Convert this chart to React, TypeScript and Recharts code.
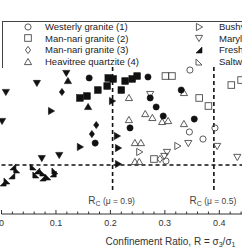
import { ScatterChart, Scatter, XAxis, YAxis, ReferenceLine } from "recharts";

type Pt = { x: number; y: number };
type Kind = "circle" | "square" | "diamond" | "up" | "down" | "right" | "fresh" | "salt";

// values (x = confinement ratio, y = arbitrary 0..1.5 scale, axis labels cropped)
const westerlyFilled: Pt[] = [
  { x: 0.161, y: 1.388 }, { x: 0.269, y: 1.398 }, { x: 0.273, y: 1.184 }, { x: 0.284, y: 1.092 },
  { x: 0.297, y: 1.0 }, { x: 0.33, y: 1.265 }, { x: 0.354, y: 0.969 }, { x: 0.236, y: 0.878 },
  { x: 0.172, y: 0.724 },
];
const manNari2Filled: Pt[] = [
  { x: 0.144, y: 1.184 }, { x: 0.157, y: 1.204 }, { x: 0.177, y: 1.265 }, { x: 0.194, y: 1.306 },
  { x: 0.196, y: 1.388 }, { x: 0.205, y: 1.378 }, { x: 0.22, y: 1.265 }, { x: 0.227, y: 1.357 },
  { x: 0.24, y: 1.378 }, { x: 0.249, y: 1.408 },
];
const manNari3Filled: Pt[] = [{ x: 0.111, y: 1.245 }, { x: 0.166, y: 0.816 }, { x: 0.174, y: 0.908 }];
const heavitreeFilled: Pt[] = [{ x: 0.122, y: 1.357 }, { x: 0.159, y: 1.092 }];
const bushveldFilled: Pt[] = [
  { x: 0.091, y: 1.051 }, { x: 0.144, y: 0.684 }, { x: 0.203, y: 1.153 }, { x: 0.212, y: 0.796 },
  { x: 0.214, y: 0.673 }, { x: 0.214, y: 0.51 },
];
const marylandFilled: Pt[] = [
  { x: 0.119, y: 1.439 }, { x: 0.065, y: 1.337 }, { x: 0.008, y: 1.245 }, { x: 0.001, y: 0.949 },
  { x: 0.074, y: 0.571 }, { x: 0.106, y: 0.602 },
];
const freshwaterFilled: Pt[] = [
  { x: 0.021, y: 0.48 }, { x: 0.019, y: 0.388 }, { x: 0.003, y: 0.316 }, { x: 0.065, y: 0.439 },
  { x: 0.076, y: 0.367 }, { x: 0.095, y: 0.408 },
];
const saltwashFilled: Pt[] = [
  { x: 0.028, y: 0.449 }, { x: 0.01, y: 0.337 }, { x: 0.058, y: 0.48 }, { x: 0.063, y: 0.398 },
  { x: 0.076, y: 0.418 }, { x: 0.085, y: 0.378 }, { x: 0.098, y: 0.439 },
];

const westerlyOpen: Pt[] = [
  { x: 0.346, y: 1.469 }, { x: 0.345, y: 0.837 }, { x: 0.37, y: 0.765 }, { x: 0.392, y: 0.878 },
  { x: 0.302, y: 0.541 },
];
const manNari2Open: Pt[] = [
  { x: 0.301, y: 1.408 }, { x: 0.313, y: 1.408 }, { x: 0.363, y: 1.184 }, { x: 0.38, y: 1.102 },
  { x: 0.422, y: 1.316 }, { x: 0.44, y: 1.367 }, { x: 0.28, y: 0.561 },
];
const manNari3Open: Pt[] = [{ x: 0.291, y: 0.561 }];
const heavitreeOpen: Pt[] = [
  { x: 0.234, y: 1.184 }, { x: 0.264, y: 1.02 }, { x: 0.277, y: 0.98 }, { x: 0.234, y: 0.959 },
  { x: 0.295, y: 0.939 }, { x: 0.306, y: 0.949 }, { x: 0.335, y: 0.918 }, { x: 0.335, y: 1.235 },
  { x: 0.245, y: 0.724 }, { x: 0.256, y: 0.724 }, { x: 0.245, y: 0.531 }, { x: 0.253, y: 0.531 },
];
const bushveldOpen: Pt[] = [{ x: 0.253, y: 0.633 }, { x: 0.323, y: 0.694 }];
const marylandOpen: Pt[] = [
  { x: 0.273, y: 1.224 }, { x: 0.343, y: 0.724 }, { x: 0.396, y: 0.694 }, { x: 0.304, y: 0.633 },
  { x: 0.433, y: 0.582 }, { x: 0.299, y: 0.592 },
];

const xTicks = [
  0, 0.02, 0.04, 0.06, 0.08, 0.1, 0.12, 0.14, 0.16, 0.18, 0.2, 0.22, 0.24, 0.26, 0.28, 0.3,
  0.32, 0.34, 0.36, 0.38, 0.4, 0.42, 0.44, 0.46,
];

const legendLeft = ["Westerly granite (1)", "Man-nari granite (2)", "Man-nari granite (3)", "Heavitree quartzite (4)"];
const legendRight = ["Bushveld norite (5)", "Maryland diabase (6)", "Freshwater sandstone (7)", "Saltwash sandstone (8)"];
const legendLeftKinds: Kind[] = ["circle", "square", "diamond", "up"];
const legendRightKinds: Kind[] = ["right", "down", "fresh", "salt"];

const RC_09 = 0.204;
const RC_05 = 0.39;
const RC_LINE_END = 0.214;
const H_LINE = 0.5;

const PLOT_TOP = 67;
const PLOT_BOTTOM = 214;
const FONT = '"Liberation Sans", Arial, sans-serif';

const series: { data: Pt[]; kind: Kind; filled: boolean }[] = [
  { data: westerlyOpen, kind: "circle", filled: false },
  { data: manNari2Open, kind: "square", filled: false },
  { data: manNari3Open, kind: "diamond", filled: false },
  { data: heavitreeOpen, kind: "up", filled: false },
  { data: bushveldOpen, kind: "right", filled: false },
  { data: marylandOpen, kind: "down", filled: false },
  { data: westerlyFilled, kind: "circle", filled: true },
  { data: manNari2Filled, kind: "square", filled: true },
  { data: manNari3Filled, kind: "diamond", filled: true },
  { data: heavitreeFilled, kind: "up", filled: true },
  { data: bushveldFilled, kind: "right", filled: true },
  { data: marylandFilled, kind: "down", filled: true },
  { data: freshwaterFilled, kind: "fresh", filled: true },
  { data: saltwashFilled, kind: "salt", filled: true },
];

function Marker({ cx, cy, kind, filled }: { cx: number; cy: number; kind: Kind; filled: boolean }) {
  const fill = filled ? "#111" : "none";
  const stroke = filled ? "#111" : "#4a4a4a";
  const sw = filled ? 0.6 : 0.9;
  const common = { fill, stroke, strokeWidth: sw };
  switch (kind) {
    case "circle":
      return <circle cx={cx} cy={cy} r={3.1} {...common} />;
    case "square":
      return <rect x={cx - 3.3} y={cy - 3.3} width={6.6} height={6.6} {...common} />;
    case "diamond":
      return <polygon points={`${cx},${cy - 3.6} ${cx + 2.6},${cy} ${cx},${cy + 3.6} ${cx - 2.6},${cy}`} {...common} />;
    case "up":
      return <polygon points={`${cx},${cy - 3.6} ${cx + 3.6},${cy + 2.6} ${cx - 3.6},${cy + 2.6}`} {...common} />;
    case "down":
      return <polygon points={`${cx},${cy + 3.6} ${cx + 3.6},${cy - 2.6} ${cx - 3.6},${cy - 2.6}`} {...common} />;
    case "right":
      return <polygon points={`${cx + 3.6},${cy} ${cx - 2.6},${cy - 3.6} ${cx - 2.6},${cy + 3.6}`} {...common} />;
    case "fresh":
      return <polygon points={`${cx + 3},${cy - 3} ${cx + 3},${cy + 3} ${cx - 3},${cy + 3}`} {...common} />;
    case "salt":
      return <polygon points={`${cx - 3},${cy - 3} ${cx - 3},${cy + 3} ${cx + 3},${cy + 3}`} {...common} />;
  }
  return null;
}

function BottomTick({ x, payload }: any) {
  const v = payload.value as number;
  const major = Math.abs(v * 10 - Math.round(v * 10)) < 1e-6;
  return (
    <g>
      <line x1={x} x2={x} y1={PLOT_BOTTOM} y2={PLOT_BOTTOM - (major ? 4 : 2.5)} stroke="#333" />
      {major && (
        <text x={x} y={225.5} textAnchor="middle" fontSize={9} fill="#333" fontFamily={FONT}>
          {v === 0 ? "0" : v.toFixed(1)}
        </text>
      )}
    </g>
  );
}

function TopTick({ x, payload }: any) {
  const v = payload.value as number;
  const major = Math.abs(v * 10 - Math.round(v * 10)) < 1e-6;
  return <line x1={x} x2={x} y1={PLOT_TOP} y2={PLOT_TOP + (major ? 4 : 2.5)} stroke="#333" />;
}

function AxisTitle() {
  return (
    <text x={170.5} y={244.5} textAnchor="middle" fontSize={10} fill="#333" fontFamily={FONT}>
      Confinement Ratio, R = σ<tspan fontSize={7} dy={2}>3</tspan>
      <tspan dy={-2}>/σ</tspan>
      <tspan fontSize={7} dy={2}>1</tspan>
    </text>
  );
}

function RcLabel({ viewBox, mu }: any) {
  const cx = viewBox.x + (viewBox.width || 0) / 2 - 1;
  return (
    <text x={cx} y={203.5} textAnchor="middle" fill="#444" fontFamily={FONT} fontSize={8.5}>
      <tspan fontSize={10}>R</tspan>
      <tspan fontSize={7} dy={2}>C</tspan>
      <tspan dy={-2}>{` (μ = ${mu})`}</tspan>
    </text>
  );
}

function LegendBox() {
  const rows = [4.5, 16, 27.5, 39.5];
  const item = (label: string, kind: Kind, i: number, symX: number, textX: number) => (
    <div key={label}>
      <svg
        width={10}
        height={10}
        style={{ position: "absolute", left: symX - 5, top: rows[i] - 5 }}
      >
        <Marker cx={5} cy={5} kind={kind} filled={kind === "fresh"} />
      </svg>
      <div
        style={{
          position: "absolute",
          left: textX,
          top: rows[i] - 5.5,
          fontSize: 9.5,
          lineHeight: "11px",
          whiteSpace: "nowrap",
          color: "#222",
          fontFamily: FONT,
        }}
      >
        {label}
      </div>
    </div>
  );
  return (
    <div
      style={{
        position: "absolute",
        left: 1.5,
        top: 21,
        width: 300,
        height: 46,
        borderTop: "1px solid #444",
        borderLeft: "1px solid #444",
      }}
    >
      {legendLeft.map((l, i) => item(l, legendLeftKinds[i], i, 25.5, 42.5))}
      {legendRight.map((l, i) => item(l, legendRightKinds[i], i, 196.5, 216.5))}
    </div>
  );
}

export default function App() {
  return (
    <div style={{ position: "absolute", left: 0, top: 0, width: 242, height: 250, overflow: "hidden", background: "#fff" }}>
      <ScatterChart width={252} height={250} margin={{ top: PLOT_TOP, right: 0, bottom: 0, left: 1.5 }}>
        <XAxis
          type="number"
          dataKey="x"
          domain={[0, 0.46]}
          ticks={xTicks}
          interval={0}
          height={36}
          tickLine={false}
          stroke="#333"
          tick={<BottomTick />}
          label={<AxisTitle />}
        />
        <XAxis
          xAxisId="top"
          orientation="top"
          type="number"
          dataKey="x"
          domain={[0, 0.46]}
          ticks={xTicks}
          interval={0}
          height={0}
          tickLine={false}
          stroke="#333"
          tick={<TopTick />}
        />
        <YAxis type="number" dataKey="y" domain={[0, 1.5]} width={0} tick={false} tickLine={false} stroke="#333" />
        <ReferenceLine y={H_LINE} stroke="#111" strokeWidth={1.6} strokeDasharray="4 3" />
        <ReferenceLine
          segment={[{ x: RC_09, y: 1.5 }, { x: RC_09, y: RC_LINE_END }]}
          stroke="#111"
          strokeWidth={1.6}
          strokeDasharray="4 3"
          label={(p: any) => <RcLabel {...p} mu="0.9" />}
        />
        <ReferenceLine
          segment={[{ x: RC_05, y: 1.5 }, { x: RC_05, y: RC_LINE_END }]}
          stroke="#111"
          strokeWidth={1.6}
          strokeDasharray="4 3"
          label={(p: any) => <RcLabel {...p} mu="0.5" />}
        />
        {series.map((s, i) => (
          <Scatter
            key={i}
            data={s.data}
            isAnimationActive={false}
            shape={(p: any) => <Marker cx={p.cx} cy={p.cy} kind={s.kind} filled={s.filled} />}
          />
        ))}
      </ScatterChart>
      <LegendBox />
    </div>
  );
}
